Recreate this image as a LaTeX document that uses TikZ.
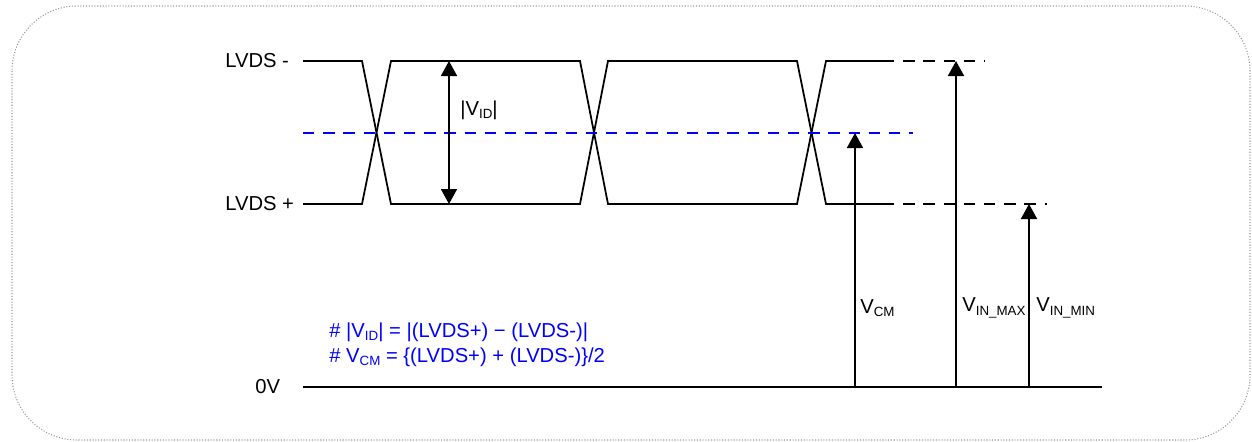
\documentclass[tikz,border=0pt]{standalone}
\usepackage{fontspec}
\setmainfont{Liberation Sans}
\usepackage{tikz}
\usetikzlibrary{arrows.meta, positioning}
\newcommand{\subtxt}[1]{\raisebox{-0.35ex}{\fontsize{7.6}{8}\selectfont #1}}

\begin{document}
\begin{tikzpicture}[x=0.02cm, y=-0.02cm,
    font=\fontsize{11.5}{13}\selectfont,
    sig/.style={line width=1pt, line join=miter},
    lvl/.style={line width=1pt, dash pattern=on 6.5pt off 5pt},
    cmline/.style={blue, line width=1pt, dash pattern=on 6.5pt off 5pt},
    meas/.style={line width=1pt, -{Triangle[width=0.32cm, length=0.3cm]}},
    measboth/.style={line width=1pt,
      {Triangle[width=0.32cm, length=0.3cm]}-{Triangle[width=0.32cm, length=0.3cm]}},
    lbl/.style={inner sep=0pt, anchor=west},
    note/.style={inner sep=0pt, text=blue, anchor=west}]
  \useasboundingbox (0,0) rectangle (1252,441);
  \draw[gray!80, densely dotted, line width=0.6pt, rounded corners=1.3cm]
    (12,6) rectangle (1250,440);

  % levels
  \coordinate (hi0) at (303,61);
  \coordinate (lo0) at (303,204);
  \coordinate (cm0) at (303,133);
  \coordinate (cm1) at (913,133);
  \coordinate (gnd0) at (303,387);
  \coordinate (gnd1) at (1102,387);

  % eye
  \draw[sig] (hi0) -- (362,61) -- (391,204) -- (580,204) -- (608,61)
    -- (797,61) -- (826,204) -- (883,204);
  \draw[sig] (lo0) -- (362,204) -- (391,61) -- (580,61) -- (608,204)
    -- (797,204) -- (826,61) -- (883,61);
  \draw[lvl] (883,61) -- (985,61);
  \draw[lvl] (883,204) -- (1047,204);
  \draw[cmline] (cm0) -- (cm1);
  \draw[sig] (gnd0) -- (gnd1);

  % labels
  \node[lbl] (lvdsn) at (225,61) {LVDS -};
  \node[lbl] (lvdsp) at (225,204) {LVDS +};
  \node[lbl] (zero) at (255,387) {0V};

  % measurements
  \coordinate (idt) at (449,61);
  \coordinate (idb) at (449,204);
  \draw[measboth] (idb) -- (idt);
  \node[lbl] (vid) at (460,110) {|V\subtxt{ID}|};

  \coordinate (cmb) at (855,387);
  \coordinate (cmt) at (855,133);
  \draw[meas] (cmb) -- (cmt);
  \node[lbl] (vcm) at (860,308) {V\subtxt{CM}};

  \coordinate (maxb) at (956,387);
  \coordinate (maxt) at (956,61);
  \draw[meas] (maxb) -- (maxt);
  \node[lbl] (vmax) at (962,308) {V\subtxt{IN\_MAX}};

  \coordinate (minb) at (1029,387);
  \coordinate (mint) at (1029,204);
  \draw[meas] (minb) -- (mint);
  \node[lbl] (vmin) at (1036,308) {V\subtxt{IN\_MIN}};

  % notes
  \node[note] (n1) at (329,332) {\# |V\subtxt{ID}| = |(LVDS+) − (LVDS-)|};
  \node[note] (n2) at (329,357) {\# V\subtxt{CM} = \{(LVDS+) + (LVDS-)\}/2};
\end{tikzpicture}
\end{document}
